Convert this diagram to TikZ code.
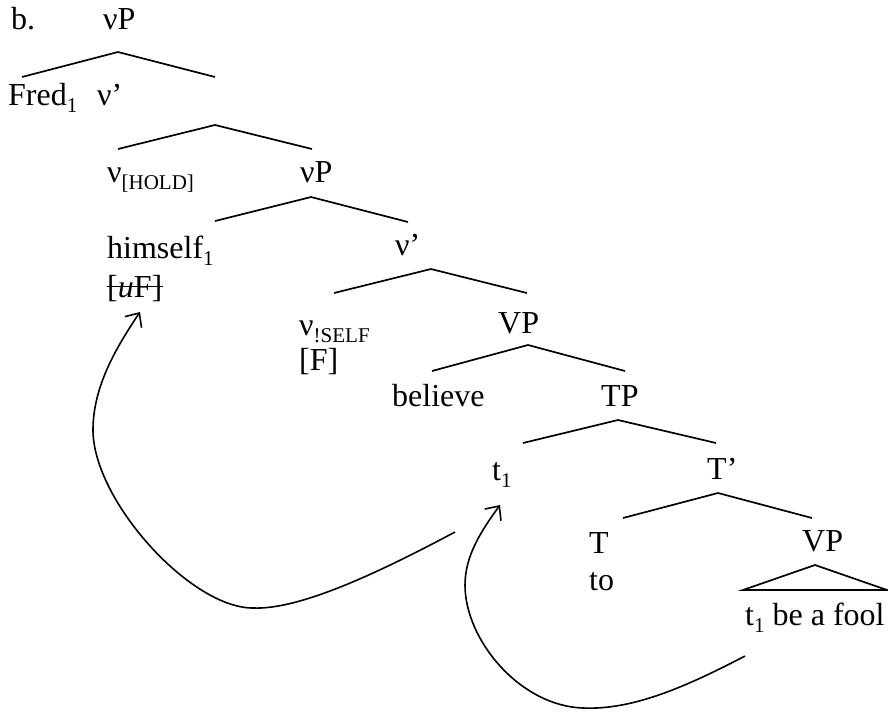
\documentclass[tikz,border=0pt]{standalone}
\usepackage{fontspec}
\setmainfont{Liberation Serif}
\usetikzlibrary{arrows.meta}
\newcommand\sbx[1]{\raisebox{-0.22em}{\fontsize{21}{21}\selectfont #1}}
\begin{document}
\begin{tikzpicture}[x=1pt,y=-1pt,
  lbl/.style={anchor=base west,inner sep=0pt,font=\fontsize{32}{36}\selectfont},
  branch/.style={line width=1.7pt},
  mv/.style={line width=1.6pt,-{Straight Barb[length=11pt,width=20pt,line width=1.6pt]}}]
\useasboundingbox (0,0) rectangle (888,712);
% labels
\node[lbl] (b) at (11,29) {b.};
\node[lbl] (vP0) at (103,29) {νP};
\node[lbl] (fred) at (8,105) {Fred\sbx{1}};
\node[lbl] (vb0) at (97,105) {ν’};
\node[lbl] (vhold) at (107,182) {ν\sbx{[HOLD]}};
\node[lbl] (vP1) at (300,182) {νP};
\node[lbl] (him) at (107,258) {himself\sbx{1}};
\node[lbl] (uF) at (107,297) {[\textit{u}F]};
\node[lbl] (vb1) at (395,255) {ν’};
\node[lbl] (vself) at (299,335) {ν\sbx{!SELF}};
\node[lbl] (F) at (299,370) {[F]};
\node[lbl] (VP0) at (498,333) {VP};
\node[lbl] (bel) at (392,406) {believe};
\node[lbl] (TP) at (601,406) {TP};
\node[lbl] (t1) at (492,480) {t\sbx{1}};
\node[lbl] (Tb) at (707,479) {T’};
\node[lbl] (T) at (589,553) {T};
\node[lbl] (to) at (589,590) {to};
\node[lbl] (VP1) at (802,551) {VP};
\node[lbl] (fool) at (745,625) {t\sbx{1} be a fool};
% strike-through
\draw[line width=1.3pt] ([yshift=10.5pt]uF.base west) -- ([yshift=10.5pt]uF.base east);
% branch points
\coordinate (a1) at (118,52);  \coordinate (l1) at (22,77);   \coordinate (r1) at (215,77);
\coordinate (a2) at (215,125); \coordinate (l2) at (118,149); \coordinate (r2) at (312,149);
\coordinate (a3) at (311,197); \coordinate (l3) at (215,221); \coordinate (r3) at (408,222);
\coordinate (a4) at (431,269); \coordinate (l4) at (334,293); \coordinate (r4) at (527,293);
\coordinate (a5) at (528,345); \coordinate (l5) at (432,371); \coordinate (r5) at (625,371);
\coordinate (a6) at (618,420); \coordinate (l6) at (523,443); \coordinate (r6) at (716,443);
\coordinate (a7) at (718,493); \coordinate (l7) at (623,518); \coordinate (r7) at (812,518);
\coordinate (a8) at (815,565); \coordinate (l8) at (743,590); \coordinate (r8) at (887,590);
\foreach \i in {1,...,7} {\draw[branch] (l\i) -- (a\i) -- (r\i);}
\draw[branch,line join=miter] (a8) -- (l8) -- (r8) -- cycle;
% movement arrows
\coordinate (s1) at (455,532); \coordinate (e1) at (140,312);
\coordinate (s2) at (745,656); \coordinate (e2) at (500,505);
\draw[mv] (s1) .. controls (380,572) and (300,610) .. (253,608)
  .. controls (190,608) and (93,500) .. (93,430)
  .. controls (93,385) and (118,345) .. (e1);
\draw[mv] (s2) .. controls (680,690) and (630,710) .. (583,708)
  .. controls (520,706) and (465,640) .. (465,585)
  .. controls (465,555) and (482,530) .. (e2);
\end{tikzpicture}
\end{document}
